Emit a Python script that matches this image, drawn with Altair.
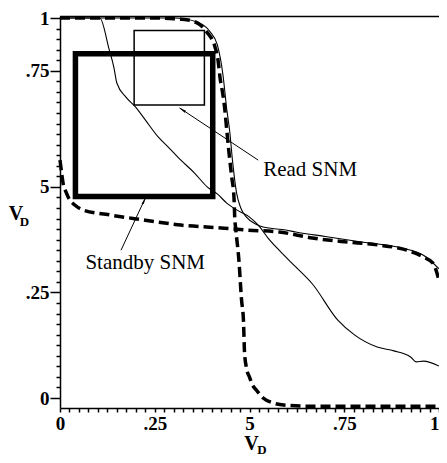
import altair as alt
import pandas as pd

# ---- curves ----
# standby curve 1 (thick dashed, falls steeply near V=0.45)
sa_x = [0.0, 0.15, 0.25, 0.30, 0.319, 0.350, 0.370, 0.389, 0.402, 0.409,
        0.417, 0.422, 0.430, 0.435, 0.440, 0.446, 0.453, 0.459, 0.461, 0.464,
        0.472, 0.479, 0.484, 0.487, 0.492, 0.500, 0.508, 0.518, 0.536, 0.562,
        0.596, 0.674, 0.80, 0.90, 1.0]
sa_y = [1.0, 1.0, 1.0, 0.998, 0.997, 0.992, 0.982, 0.961, 0.942, 0.924,
        0.889, 0.845, 0.797, 0.758, 0.705, 0.645, 0.582, 0.529, 0.476, 0.442,
        0.363, 0.258, 0.205, 0.118, 0.079, 0.055, 0.034, 0.021, 0.0, -0.013,
        -0.019, -0.022, -0.022, -0.022, -0.022]
# standby curve 2 (thick dashed, nearly flat)
sb_x = [0.0, 0.005, 0.008, 0.016, 0.026, 0.039, 0.060, 0.130, 0.225, 0.319,
        0.433, 0.492, 0.578, 0.666, 0.751, 0.837, 0.915, 0.959, 0.984, 1.0]
sb_y = [0.626, 0.587, 0.566, 0.542, 0.521, 0.508, 0.495, 0.482, 0.468, 0.455,
        0.447, 0.442, 0.437, 0.421, 0.411, 0.403, 0.389, 0.371, 0.355, 0.31]
# read curve 1 (thin, gradual)
ra_x = [0.0, 0.105, 0.130, 0.142, 0.150, 0.174, 0.199, 0.225, 0.259, 0.285,
        0.319, 0.355, 0.389, 0.415, 0.440, 0.466, 0.500, 0.523, 0.549, 0.578,
        0.622, 0.666, 0.733, 0.777, 0.837, 0.881, 0.925, 0.940, 0.959, 1.0]
ra_y = [1.0, 1.0, 0.916, 0.871, 0.829, 0.792, 0.766, 0.732, 0.687, 0.661,
        0.626, 0.592, 0.555, 0.537, 0.513, 0.495, 0.476, 0.455, 0.421, 0.389,
        0.345, 0.3, 0.205, 0.166, 0.134, 0.124, 0.108, 0.095, 0.097, 0.084]
# read curve 2 (thin, along the standby curves)
rb_x = [0.0, 0.30, 0.36, 0.395, 0.415, 0.430, 0.440, 0.448, 0.455, 0.466,
        0.477, 0.492, 0.516, 0.536, 0.596, 0.622, 0.70, 0.80, 0.90, 0.96, 1.0]
rb_y = [1.0, 1.0, 0.99, 0.965, 0.93, 0.85, 0.76, 0.70, 0.626, 0.539,
        0.50, 0.476, 0.458, 0.45, 0.442, 0.437, 0.425, 0.41, 0.395, 0.375, 0.34]

# ---- SNM boxes ----
standby_box = {"x": [0.0407], "x2": [0.403], "y": [0.530], "y2": [0.906]}
read_box = {"x": [0.1956], "x2": [0.381], "y": [0.771], "y2": [0.967]}

# ---- annotations ----
arrows = {"x": [0.523, 0.161], "y": [0.626, 0.389],
          "x2": [0.316, 0.225], "y2": [0.763, 0.526]}
heads_read = {"x": [0.325], "y": [0.757]}
heads_standby = {"x": [0.221], "y": [0.517]}
labels = {"x": [0.536, 0.067], "y": [0.60, 0.355], "t": ["Read SNM", "Standby SNM"]}
title_v = {"x": [0.505, -0.116], "y": [-0.121, 0.484], "t": ["V", "V"]}
title_d = {"x": [0.533, -0.094], "y": [-0.137, 0.462], "t": ["D", "D"]}
frame_top = {"x": [0.0], "x2": [1.01], "y": [1.004]}

x_ticks = [round(i * 0.025, 4) for i in range(41)]
y_ticks = [round(i / 36, 5) for i in range(37)]

FONT = "Times New Roman, Liberation Serif, DejaVu Serif, serif"

X = alt.Scale(domain=[0, 1], nice=False, zero=False)
Y = alt.Scale(domain=[-0.0263, 1.0053], nice=False, zero=False)

x_axis = alt.Axis(
    values=x_ticks, title="", labelFlush=False, labelBound=False,
    labelExpr=("round(datum.value*40)==0 ? '0' : round(datum.value*40)==10 ? '.25' : "
               "round(datum.value*40)==20 ? '5' : round(datum.value*40)==30 ? '.75' : "
               "round(datum.value*40)==40 ? '1' : ''"),
    labelAlign={"condition": {"test": "datum.value > 0.99", "value": "right"}, "value": "center"},
    tickSize=4, labelPadding=2,
)
y_axis = alt.Axis(
    values=y_ticks, title="", labelFlush=False, labelBound=False,
    labelExpr=("round(datum.value*36)==0 ? '0' : round(datum.value*36)==10 ? '.25' : "
               "round(datum.value*36)==20 ? '5' : round(datum.value*36)==31 ? '.75' : "
               "round(datum.value*36)==36 ? '1' : ''"),
    tickSize={"condition": {"test": "indexof([0,10,20,31,36], round(datum.value*36)) >= 0",
                            "value": 10}, "value": 4},
    labelPadding=1,
)


def curve_df(xs, ys):
    return pd.DataFrame({"x": xs, "y": ys, "i": list(range(len(xs)))})


def xy():
    return dict(x=alt.X("x:Q", scale=X, axis=x_axis),
                y=alt.Y("y:Q", scale=Y, axis=y_axis))


dashed = dict(color="black", strokeWidth=3.5, strokeDash=[10, 5], interpolate="monotone")
thin = dict(color="black", strokeWidth=1.1, interpolate="monotone")

layers = [
    alt.Chart(curve_df(sa_x, sa_y)).mark_line(**dashed).encode(order="i:Q", **xy()),
    alt.Chart(curve_df(sb_x, sb_y)).mark_line(**dashed).encode(order="i:Q", **xy()),
    alt.Chart(curve_df(ra_x, ra_y)).mark_line(**thin).encode(order="i:Q", **xy()),
    alt.Chart(curve_df(rb_x, rb_y)).mark_line(**thin).encode(order="i:Q", **xy()),
    alt.Chart(pd.DataFrame(standby_box)).mark_rect(filled=False, stroke="black", strokeWidth=5.5)
    .encode(x2="x2:Q", y2="y2:Q", **xy()),
    alt.Chart(pd.DataFrame(read_box)).mark_rect(filled=False, stroke="black", strokeWidth=1.5)
    .encode(x2="x2:Q", y2="y2:Q", **xy()),
    alt.Chart(pd.DataFrame(frame_top)).mark_rule(color="black", strokeWidth=1.5)
    .encode(x2="x2:Q", **xy()),
    alt.Chart(pd.DataFrame(arrows)).mark_rule(color="black", strokeWidth=1)
    .encode(x2="x2:Q", y2="y2:Q", **xy()),
    alt.Chart(pd.DataFrame(heads_read)).mark_point(shape="wedge", filled=True, color="black",
                                                   size=80, angle=303, opacity=1).encode(**xy()),
    alt.Chart(pd.DataFrame(heads_standby)).mark_point(shape="wedge", filled=True, color="black",
                                                      size=80, angle=26, opacity=1).encode(**xy()),
    alt.Chart(pd.DataFrame(labels)).mark_text(font=FONT, fontSize=21, align="left",
                                              baseline="middle", color="black")
    .encode(text="t:N", **xy()),
    alt.Chart(pd.DataFrame(title_v)).mark_text(font=FONT, fontSize=20, fontWeight="bold",
                                               align="center", baseline="middle", color="black")
    .encode(text="t:N", **xy()),
    alt.Chart(pd.DataFrame(title_d)).mark_text(font=FONT, fontSize=13, fontWeight="bold",
                                               align="center", baseline="middle", color="black")
    .encode(text="t:N", **xy()),
]

chart = alt.layer(*layers).properties(
    width=379, height=392,
    autosize=alt.AutoSizeParams(type="none"),
    padding={"left": 52, "top": 8, "right": 0, "bottom": 47},
    background="white",
).configure_view(strokeWidth=0).configure_axis(
    grid=False, domainColor="black", domainWidth=1.5, tickColor="black", tickWidth=1.5,
    labelColor="black", labelFont=FONT, labelFontSize=19, labelFontWeight="bold",
)

chart.save("out.html", embed_options={"renderer": "svg", "actions": False})
